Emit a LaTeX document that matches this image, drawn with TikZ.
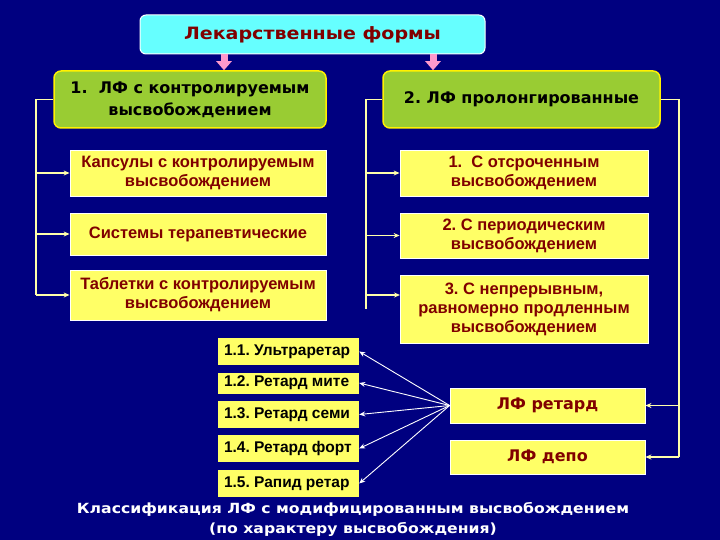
\documentclass[tikz,border=0pt]{standalone}
\usepackage{fontspec}
\setmainfont{Liberation Sans}
\newfontfamily\vfont{DejaVu Sans}
\newfontfamily\wfont{DejaVu Sans}[FakeStretch=1.12]
\usetikzlibrary{arrows.meta}
\definecolor{bg}{RGB}{0,0,128}
\definecolor{ylw}{RGB}{255,255,102}
\definecolor{grn}{RGB}{153,204,51}
\definecolor{cyn}{RGB}{102,255,255}
\definecolor{dred}{RGB}{128,0,0}
\definecolor{pnk}{RGB}{255,153,204}
\definecolor{lne}{RGB}{255,255,170}
\newcommand{\sline}[1]{\makebox[129pt][l]{#1}}
\tikzset{
  ybox/.style={draw=white, line width=0.8pt, fill=ylw, inner sep=2pt, align=center,
    font=\bfseries\fontsize{16.5}{19}\selectfont, text=dred},
  gbox/.style={draw=yellow, line width=1.5pt, fill=grn, rounded corners=7pt, align=center,
    font=\vfont\bfseries\fontsize{16}{22}\selectfont, text=black},
  sbox/.style={draw=none, fill=ylw, minimum width=141pt,
    inner xsep=6pt, inner ysep=2pt, font=\bfseries\fontsize{15.5}{17}\selectfont, text=black},
  bline/.style={draw=lne, line width=1.3pt},
  barr/.style={draw=lne, line width=1.3pt, -{Stealth[length=6pt,width=5pt]}},
  warr/.style={draw=white, line width=0.9pt, -{Stealth[length=6pt,width=5pt]}},
  parr/.style={draw=pnk, line width=7pt, -{Triangle[length=9pt,width=15pt]}},
}
\begin{document}
\frenchspacing
\begin{tikzpicture}[x=1pt,y=-1pt]
\fill[bg] (0,0) rectangle (720,540);
\useasboundingbox (0,0) rectangle (720,540);

\node[draw=white, line width=1pt, fill=cyn, rounded corners=6pt, minimum width=345pt, minimum height=39pt,
  font=\wfont\bfseries\fontsize{17}{19}\selectfont, text=dred] (top) at (312.5,34.5) {Лекарственные формы};

\node[gbox, minimum width=272pt, minimum height=57pt] (g1) at (190,99.5) {1.\ \ ЛФ с контролируемым\\высвобождением};
\node[gbox, minimum width=277pt, minimum height=57pt] (g2) at (521.5,99.5) {2. ЛФ пролонгированные};

\node[ybox, minimum width=256pt, minimum height=46pt] (l1) at (198,173) {Капсулы с контролируемым\\высвобождением};
\node[ybox, minimum width=256pt, minimum height=42pt] (l2) at (198,234) {Системы терапевтические};
\node[ybox, minimum width=256pt, minimum height=50pt] (l3) at (198,295) {Таблетки с контролируемым\\высвобождением};

\node[ybox, minimum width=248pt, minimum height=46pt] (r1) at (524,173) {1.\ \ С отсроченным\\высвобождением};
\node[ybox, minimum width=248pt, minimum height=45pt] (r2) at (524,235.5) {2. С периодическим\\высвобождением};
\node[ybox, minimum width=248pt, minimum height=68pt] (r3) at (524,309) {3. С непрерывным,\\равномерно продленным\\высвобождением};

\node[ybox, minimum width=195pt, minimum height=35pt, font=\vfont\bfseries\fontsize{16}{18}\selectfont] (rt) at (547.5,405.5) {ЛФ ретард};
\node[ybox, minimum width=195pt, minimum height=34pt, font=\vfont\bfseries\fontsize{16}{18}\selectfont] (dp) at (547.5,457) {ЛФ депо};

\node[sbox, minimum height=27pt] (s1) at (288.5,351.5) {\sline{1.1. Ультраретар}};
\node[sbox, minimum height=21pt] (s2) at (288.5,383) {\sline{1.2. Ретард мите}};
\node[sbox, minimum height=27pt] (s3) at (288.5,414.5) {\sline{1.3. Ретард семи}};
\node[sbox, minimum height=27pt] (s4) at (288.5,448.5) {\sline{1.4. Ретард форт}};
\node[sbox, minimum height=27pt] (s5) at (288.5,483.5) {\sline{1.5. Рапид ретар}};

% pink arrows
\coordinate (p1) at (224,0);
\coordinate (p2) at (433,0);
\draw[parr] (top.south -| p1) -- (g1.north -| p1);
\draw[parr] (top.south -| p2) -- (g2.north -| p2);

% left bracket
\coordinate (lx) at (36,0);
\draw[bline] (g1.west) -- (g1.west -| lx) -- (l3.west -| lx);
\foreach \n in {l1,l2,l3} \draw[barr] (\n.west -| lx) -- (\n.west);

% right inner bracket
\coordinate (rx) at (366,0);
\draw[bline] (g2.west) -- (g2.west -| rx) -- (r3.west -| rx);
\draw[barr] (r1.west -| rx) -- (r1.west);
\draw[barr] (r2.west -| rx) -- (r2.west);
\coordinate (r3a) at (400,295);
\draw[barr] (r3a -| rx) -- (r3a);

% right outer bracket
\coordinate (ox) at (679,0);
\draw[bline] (g2.east) -- (g2.east -| ox) -- (dp.east -| ox);
\draw[barr] (rt.east -| ox) -- (rt.east);
\draw[barr] (dp.east -| ox) -- (dp.east);

% retard arrows
\foreach \n in {s1,s2,s3,s4,s5} \draw[warr] (rt.west) -- (\n.east);

% caption
\node[text=white, align=center, font=\wfont\bfseries\fontsize{14}{20}\selectfont] (cap) at (353,519)
  {Классификация ЛФ с модифицированным высвобождением\\(по характеру высвобождения)};
\end{tikzpicture}
\end{document}
